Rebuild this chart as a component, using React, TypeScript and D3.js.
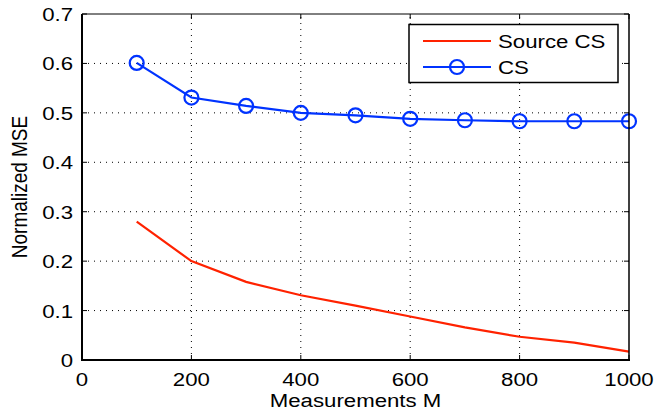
import React from "react";
import * as d3 from "d3";

const xValues = [100, 200, 300, 400, 500, 600, 700, 800, 900, 1000];
const sourceCS = [0.28, 0.2, 0.158, 0.131, 0.11, 0.088, 0.066, 0.047, 0.035, 0.017];
const cs = [0.601, 0.531, 0.514, 0.5, 0.495, 0.488, 0.485, 0.483, 0.483, 0.483];
const xTicks = [0, 200, 400, 600, 800, 1000];
const yTicks = [0, 0.1, 0.2, 0.3, 0.4, 0.5, 0.6, 0.7];

const font = "'Liberation Sans', Arial, Helvetica, sans-serif";
const SX = 1.17;

function T({ x, y, anchor = "start", rotate = 0, children }: any) {
  return (
    <text
      transform={`translate(${x},${y}) scale(${SX},1) rotate(${rotate})`}
      textAnchor={anchor}
      fontFamily={font}
      fontSize={19}
      fill="#000"
    >
      {children}
    </text>
  );
}

export default function App() {
  const W = 655, H = 414;
  const L = 82, R = 629, Tp = 14, B = 360;
  const x = d3.scaleLinear().domain([0, 1000]).range([L, R]);
  const y = d3.scaleLinear().domain([0, 0.7]).range([B, Tp]);
  const line = d3.line<number>().x((_, i) => x(xValues[i])).y((d) => y(d));
  return (
    <svg width={W} height={H} style={{ position: "absolute", left: 0, top: 0, background: "#fff" }}>
      <rect x={0} y={0} width={W} height={H} fill="#fff" />
      {xTicks.slice(1, -1).map((t) => (
        <line key={"gx" + t} x1={x(t)} x2={x(t)} y1={B} y2={Tp} stroke="#000" strokeWidth={1} strokeDasharray="1,5" />
      ))}
      {yTicks.slice(1, -1).map((t) => (
        <line key={"gy" + t} x1={L} x2={R} y1={y(t)} y2={y(t)} stroke="#000" strokeWidth={1} strokeDasharray="1,5" />
      ))}
      {xTicks.map((t) => (
        <g key={"tx" + t}>
          <line x1={x(t)} x2={x(t)} y1={B} y2={B - 5} stroke="#000" />
          <line x1={x(t)} x2={x(t)} y1={Tp} y2={Tp + 5} stroke="#000" />
          <T x={x(t)} y={B + 26} anchor="middle">{t}</T>
        </g>
      ))}
      {yTicks.map((t) => (
        <g key={"ty" + t}>
          <line x1={L} x2={L + 5} y1={y(t)} y2={y(t)} stroke="#000" />
          <line x1={R} x2={R - 5} y1={y(t)} y2={y(t)} stroke="#000" />
          <T x={L - 9} y={y(t) + 7} anchor="end">{t === 0 ? "0" : t.toFixed(1)}</T>
        </g>
      ))}
      <path d={line(sourceCS) || ""} fill="none" stroke="#ff2200" strokeWidth={2.2} />
      <path d={line(cs) || ""} fill="none" stroke="#0033ff" strokeWidth={2.2} />
      {cs.map((v, i) => (
        <circle key={"c" + i} cx={x(xValues[i])} cy={y(v)} r={7} fill="none" stroke="#0033ff" strokeWidth={2.2} />
      ))}
      <line x1={L} x2={R} y1={Tp} y2={Tp} stroke="#000" strokeWidth={1} />
      <line x1={R} x2={R} y1={Tp} y2={B} stroke="#000" strokeWidth={1.5} />
      <line x1={L} x2={L} y1={Tp} y2={B + 1} stroke="#000" strokeWidth={2} />
      <line x1={L - 1} x2={R + 1} y1={B} y2={B} stroke="#000" strokeWidth={2} />
      <g>
        <rect x={409} y={24.5} width={209} height={58} fill="#fff" stroke="#000" strokeWidth={1.5} />
        <line x1={423} x2={491} y1={41} y2={41} stroke="#ff2200" strokeWidth={2.2} />
        <T x={498} y={48}>Source CS</T>
        <line x1={423} x2={491} y1={67} y2={67} stroke="#0033ff" strokeWidth={2.2} />
        <circle cx={457} cy={67} r={7} fill="none" stroke="#0033ff" strokeWidth={2.2} />
        <T x={498} y={74}>CS</T>
      </g>
      <T x={355.5} y={406.5} anchor="middle">Measurements M</T>
      <T x={27} y={(Tp + B) / 2} anchor="middle" rotate={-90}>Normalized MSE</T>
    </svg>
  );
}
